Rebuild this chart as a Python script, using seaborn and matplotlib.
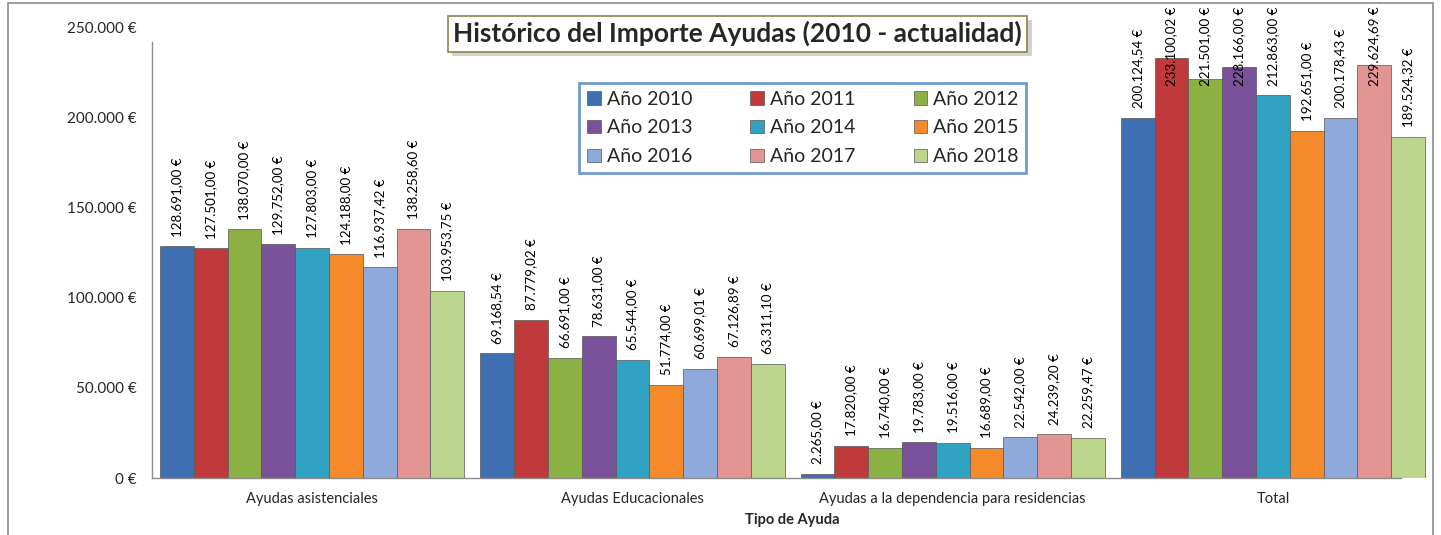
import numpy as np
import pandas as pd
import matplotlib
matplotlib.use("Agg")
import matplotlib.pyplot as plt
import matplotlib.patches as mpatches
import matplotlib.patheffects as pe
from matplotlib.ticker import FuncFormatter
import seaborn as sns

# Data
categories = ["Ayudas asistenciales", "Ayudas Educacionales",
              "Ayudas a la dependencia para residencias", "Total"]
years = ["Año 2010", "Año 2011", "Año 2012", "Año 2013", "Año 2014",
         "Año 2015", "Año 2016", "Año 2017", "Año 2018"]
asistenciales = [128691.00, 127501.00, 138070.00, 129752.00, 127803.00,
                 124188.00, 116937.42, 138258.60, 103953.75]
educacionales = [69168.54, 87779.02, 66691.00, 78631.00, 65544.00,
                 51774.00, 60699.01, 67126.89, 63311.10]
dependencia = [2265.00, 17820.00, 16740.00, 19783.00, 19516.00,
               16689.00, 22542.00, 24239.20, 22259.47]
total = [200124.54, 233100.02, 221501.00, 228166.00, 212863.00,
         192651.00, 200178.43, 229624.69, 189524.32]

colors = ["#3E6FB2", "#C0393B", "#8CB043", "#7A519B", "#2FA3C1",
          "#F58A2A", "#8EAADB", "#E39594", "#BCD68E"]

rows = []
for cat, vals in zip(categories, [asistenciales, educacionales, dependencia, total]):
    for yr, v in zip(years, vals):
        rows.append({"Tipo": cat, "Año": yr, "Importe": v})
df = pd.DataFrame(rows)

sns.set_style("white")
plt.rcParams["font.family"] = ["Lato", "DejaVu Sans"]

fig = plt.figure(figsize=(14.41, 5.35), dpi=100)
ax = fig.add_axes([0.1055, 0.1065, 0.889, 0.8415])

sns.barplot(data=df, x="Tipo", y="Importe", hue="Año", order=categories,
            hue_order=years, palette=colors, saturation=1, width=0.95,
            edgecolor="#555555", linewidth=0.5, ax=ax, legend=True)

ax.set_ylim(0, 250000)
ax.set_xlim(-0.5, 3.5)
ax.set_yticks(np.arange(0, 250001, 50000))


def euro(v, pos=None):
    s = f"{v:,.0f}".replace(",", ".")
    return f"{s} €"


def euro2(v):
    s = f"{v:,.2f}".replace(",", "X").replace(".", ",").replace("X", ".")
    return f"{s} €"


ax.yaxis.set_major_formatter(FuncFormatter(euro))
ax.tick_params(axis="y", labelsize=11, length=0, pad=11)
ax.tick_params(axis="x", labelsize=10.5, length=0, pad=10)
ax.set_xlabel("Tipo de Ayuda", fontsize=10.5, fontweight="bold", labelpad=5)
ax.set_ylabel("")

for side in ["top", "right"]:
    ax.spines[side].set_visible(False)
for side in ["left", "bottom"]:
    ax.spines[side].set_color("#8c8c8c")
    ax.spines[side].set_linewidth(1)
ax.spines["left"].set_bounds(0, 242000)
ax.spines["bottom"].set_bounds(-0.5, 3.4)

# value labels, clamped near the top like the original
cap = 212500
for cont, yr in zip(ax.containers, years):
    for bar in cont:
        h = bar.get_height()
        xc = bar.get_x() + bar.get_width() / 2
        ax.annotate(euro2(h), (xc, min(h, cap)), xytext=(0, 7),
                    textcoords="offset points", rotation=90,
                    ha="center", va="bottom", fontsize=9.6, color="black",
                    annotation_clip=False)

# legend, filled row by row like the original
order = [0, 3, 6, 1, 4, 7, 2, 5, 8]
handles = [mpatches.Patch(facecolor=colors[i], edgecolor="#555555", linewidth=0.5)
           for i in order]
labels = [years[i] for i in order]
ax.legend(handles, labels, ncol=3, loc="upper left",
          bbox_to_anchor=(0.326, 0.899), fontsize=14, frameon=True,
          fancybox=False, edgecolor="#4F81BD", handlelength=0.7,
          handleheight=0.7, handletextpad=0.3, columnspacing=3.0,
          labelspacing=0.6, borderpad=0.4)
ax.get_legend().get_frame().set_linewidth(2)

# title box
fig.text(0.512, 0.937, "Histórico del Importe Ayudas (2010 - actualidad)",
         ha="center", va="center", fontsize=19, fontweight="bold",
         bbox=dict(boxstyle="square,pad=0.2", facecolor="white",
                   edgecolor="#8c8450", linewidth=1.2,
                   path_effects=[pe.SimplePatchShadow(offset=(3, -3), alpha=0.25),
                                 pe.Normal()]))

# outer chart border
fig.patches.append(mpatches.Rectangle((0.0056, -0.05), 0.9889, 1.044,
                                      transform=fig.transFigure, fill=False,
                                      edgecolor="#8c8c8c", linewidth=1.2))

fig.savefig("out.png", dpi=100)
